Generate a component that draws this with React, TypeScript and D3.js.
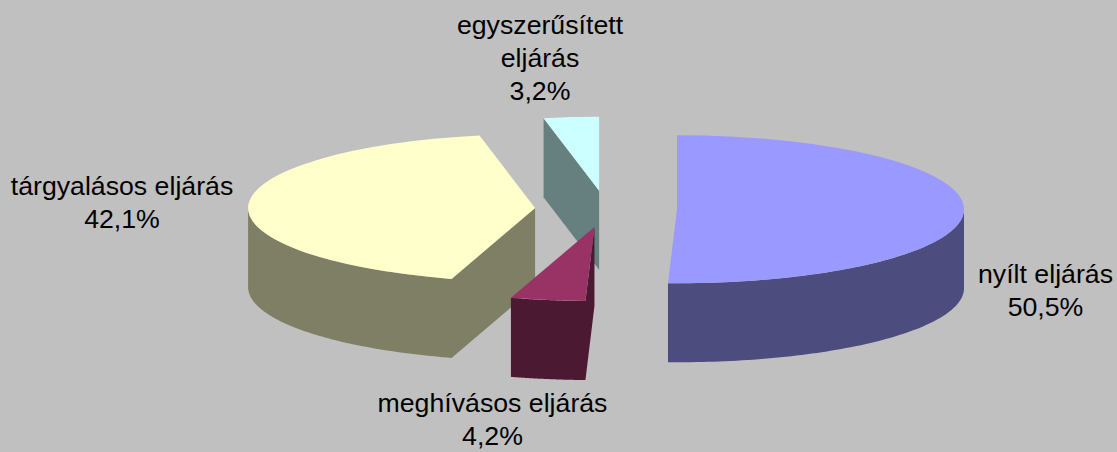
import React from 'react';
import * as d3 from 'd3';

const categories = ['nyílt eljárás', 'meghívásos eljárás', 'tárgyalásos eljárás', 'egyszerűsített eljárás'];
const values = [50.5, 4.2, 42.2, 3.1];
const valueLabels = ['50,5%', '4,2%', '42,1%', '3,2%'];
const topColors = ['#9999FF', '#993366', '#FFFFCC', '#CCFFFF'];
const sideColors = ['#4C4C7F', '#4C1933', '#7F7F66', '#667F7F'];
const labelLines = [
  ['nyílt eljárás', '50,5%'],
  ['meghívásos eljárás', '4,2%'],
  ['tárgyalásos eljárás', '42,1%'],
  ['egyszerűsített', 'eljárás', '3,2%'],
];
const labelAnchors: [number, number][] = [
  [1045.5, 283],
  [492.5, 412],
  [122, 195],
  [540, 34],
];
const drawOrder = [3, 2, 0, 1];

const W = 1117, H = 452;
const CX = 606, CY = 209, RX = 287, RY = 74, DEPTH = 79, EXPLODE = 71;
const LINE = 33;

const pie = d3.pie<number>().sort(null).startAngle(0).endAngle(2 * Math.PI);
const arcs = pie(values);
const rScale = d3.scaleLinear().domain([0, 1]).range([0, RX]);
const yRatio = RY / RX;

function pt(a: number, r: number, cx: number, cy: number): [number, number] {
  return [cx + rScale(r) * Math.sin(a), cy - rScale(r) * yRatio * Math.cos(a)];
}

const line = d3.line();

function wallPath(a0: number, a1: number, cx: number, cy: number) {
  const n = 80;
  const angles = d3.range(n + 1).map((i) => a0 + ((a1 - a0) * i) / n);
  const top = angles.map((a) => pt(a, 1, cx, cy));
  const bottom = top.slice().reverse().map(([x, y]) => [x, y + DEPTH] as [number, number]);
  return line([...top, ...bottom]) + 'Z';
}

function radialPath(a: number, cx: number, cy: number) {
  const p0 = pt(a, 0, cx, cy);
  const p1 = pt(a, 1, cx, cy);
  return line([p0, p1, [p1[0], p1[1] + DEPTH], [p0[0], p0[1] + DEPTH]]) + 'Z';
}

export default function App() {
  const arcGen = d3.arc<any>().innerRadius(0).outerRadius(RX);
  return (
    <svg
      width={W}
      height={H}
      viewBox={`0 0 ${W} ${H}`}
      style={{ position: 'absolute', left: 0, top: 0, display: 'block', background: '#C0C0C0' }}
    >
      <rect width={W} height={H} fill="#C0C0C0" />
      {drawOrder.map((i) => {
        const d = arcs[i];
        const mid = (d.startAngle + d.endAngle) / 2;
        const cx = CX + EXPLODE * Math.sin(mid);
        const cy = CY - EXPLODE * yRatio * Math.cos(mid);
        const frontStart = Math.max(d.startAngle, Math.PI / 2);
        const frontEnd = Math.min(d.endAngle, (3 * Math.PI) / 2);
        const side = sideColors[i];
        const shapes: string[] = [];
        if (Math.sin(d.startAngle) < -1e-6) shapes.push(radialPath(d.startAngle, cx, cy));
        if (Math.sin(d.endAngle) > 1e-6) shapes.push(radialPath(d.endAngle, cx, cy));
        if (frontEnd > frontStart) shapes.push(wallPath(frontStart, frontEnd, cx, cy));
        return (
          <g key={categories[i]}>
            <path d={shapes.join(' ')} fill={side} fillRule="nonzero" />
            <path
              d={arcGen(d) as string}
              fill={topColors[i]}
              transform={`translate(${cx},${cy}) scale(1,${yRatio})`}
            />
          </g>
        );
      })}
      {labelLines.map((lines, i) => (
        <text
          key={valueLabels[i]}
          textAnchor="middle"
          fontFamily="Liberation Sans, Arial, sans-serif"
          fontSize={26.7}
          fill="#000"
        >
          {lines.map((t, j) => (
            <tspan key={j} x={labelAnchors[i][0]} y={labelAnchors[i][1] + j * LINE}>
              {t}
            </tspan>
          ))}
        </text>
      ))}
    </svg>
  );
}
